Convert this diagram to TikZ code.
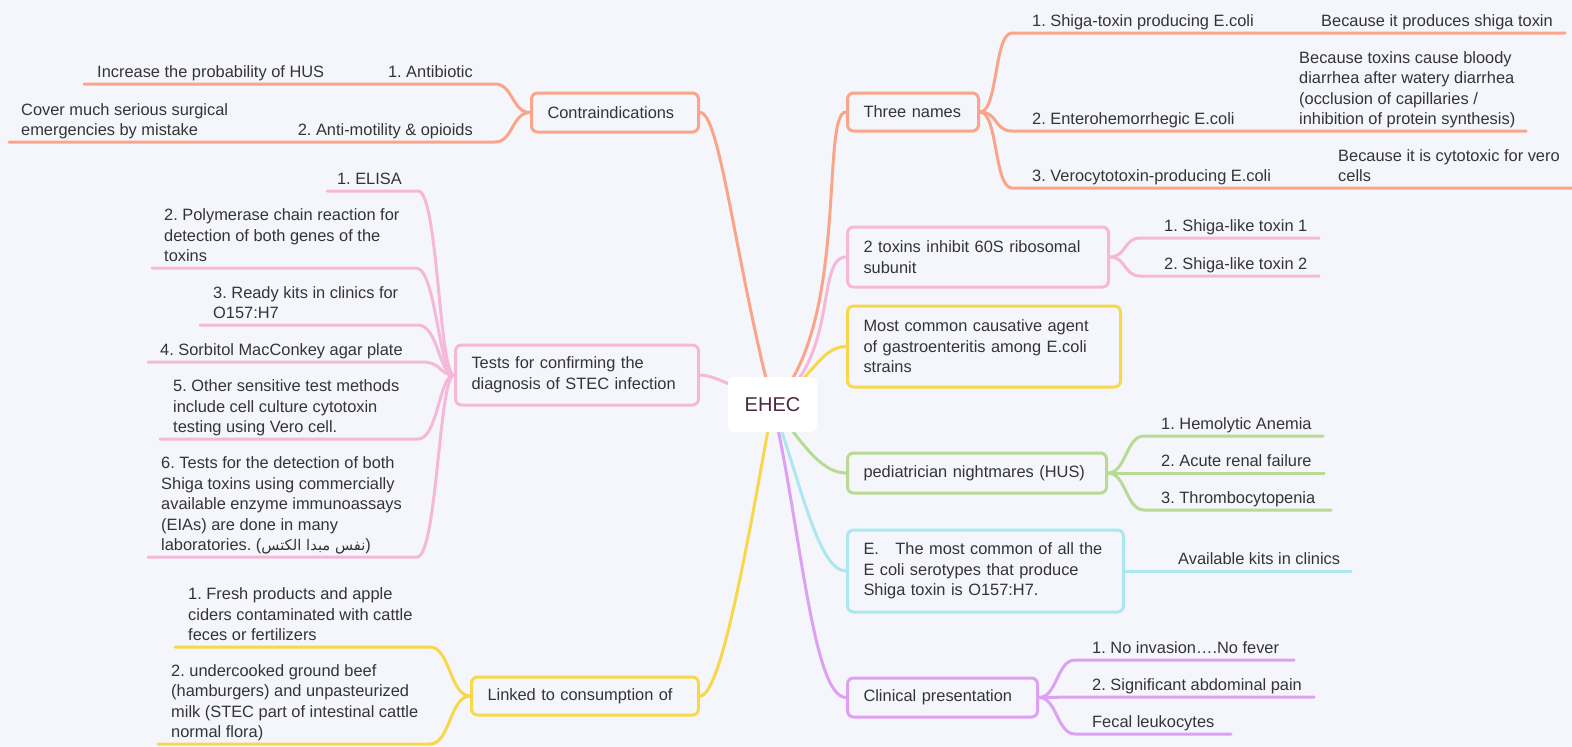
\documentclass[tikz,border=0pt]{standalone}
\usepackage{fontspec}
\setmainfont{Liberation Sans}
\newfontfamily\arabicfont[Script=Arabic,Scale=0.9]{DejaVu Sans}
\TeXXeTstate=1
\frenchspacing
\definecolor{bgc}{RGB}{245,246,251}
\definecolor{txt}{RGB}{52,52,56}
\definecolor{rootc}{RGB}{75,40,64}
\definecolor{orangec}{RGB}{250,165,137}
\definecolor{pinkc}{RGB}{245,184,216}
\definecolor{yellowc}{RGB}{247,216,74}
\definecolor{greenc}{RGB}{184,218,146}
\definecolor{cyanc}{RGB}{171,231,238}
\definecolor{purplec}{RGB}{221,160,242}
\pgfdeclarelayer{back}
\pgfsetlayers{back,main}
\begin{document}
\begin{tikzpicture}[x=1pt,y=-1pt,
    every node/.style={font=\fontsize{16.4}{20.5}\selectfont, text=txt},
    topic/.style={draw, line width=3pt, rounded corners=6pt, fill=bgc, align=left,
      inner xsep=16pt, inner ysep=0pt, anchor=west},
    topicr/.style={topic, anchor=east},
    leaf/.style={inner sep=0pt, text depth=4pt, align=left, anchor=south west},
    leafr/.style={leaf, anchor=south east},
    link/.style={line width=3pt, line cap=round}]
  \useasboundingbox (0,0) rectangle (1572,747);
  \begin{pgfonlayer}{back}
    \fill[bgc] (0,0) rectangle (1572,747);
  \end{pgfonlayer}

  \node[fill=white, rounded corners=6pt, minimum width=89pt, minimum height=55pt,
    font=\fontsize{20}{24}\selectfont, text=rootc] (ehec) at (772.5,404.5) {EHEC};

  \node[topic, draw=orangec, text width=99pt, minimum height=38pt] (three) at (846,112) {Three names};
  \node[topic, draw=pinkc, text width=229pt, minimum height=60pt] (tox) at (846,257) {2 toxins inhibit 60S ribosomal\\subunit};
  \node[topic, draw=yellowc, text width=241pt, minimum height=81pt] (most) at (846,346.5) {Most common causative agent\\of gastroenteritis among E.coli\\strains};
  \node[topic, draw=greenc, text width=227pt, minimum height=40pt] (ped) at (846,473) {pediatrician nightmares (HUS)};
  \node[topic, draw=cyanc, text width=244pt, minimum height=82pt] (ecoli) at (846,571) {E.\ \ \ The most common of all the\\E coli serotypes that produce\\Shiga toxin is O157:H7.};
  \node[topic, draw=purplec, text width=158pt, minimum height=39pt] (clin) at (846,697.5) {Clinical presentation};
  \node[topicr, draw=orangec, text width=135pt, minimum height=39pt] (contra) at (700,112.5) {Contraindications};
  \node[topicr, draw=pinkc, text width=211pt, minimum height=60pt] (tests) at (700,375) {Tests for confirming the\\diagnosis of STEC infection};
  \node[topicr, draw=yellowc, text width=195pt, minimum height=38pt] (linked) at (700,696) {Linked to consumption of};

  \node[leaf] (three1) at (1032,31) {1. Shiga-toxin producing E.coli};
  \node[leaf] (three1n) at (1321,31) {Because it produces shiga toxin};
  \node[leaf] (three2) at (1032,129) {2. Enterohemorrhegic E.coli};
  \node[leaf] (three2n) at (1299,129) {Because toxins cause bloody\\diarrhea after watery diarrhea\\(occlusion of capillaries /\\inhibition of protein synthesis)};
  \node[leaf] (three3) at (1032,186) {3. Verocytotoxin-producing E.coli};
  \node[leaf] (three3n) at (1338,186) {Because it is cytotoxic for vero\\cells};
  \node[leaf] (tox1) at (1164,236) {1. Shiga-like toxin 1};
  \node[leaf] (tox2) at (1164,274) {2. Shiga-like toxin 2};
  \node[leaf] (ped1) at (1161,434) {1. Hemolytic Anemia};
  \node[leaf] (ped2) at (1161,471) {2. Acute renal failure};
  \node[leaf] (ped3) at (1161,508) {3. Thrombocytopenia};
  \node[leaf] (ecoli1) at (1178,569) {Available kits in clinics};
  \node[leaf] (clin1) at (1092,658) {1. No invasion….No fever};
  \node[leaf] (clin2) at (1092,695) {2. Significant abdominal pain};
  \node[leaf] (clin3) at (1092,732) {Fecal leukocytes};

  \node[leafr] (contra1) at (473,82) {1. Antibiotic};
  \node[leaf] (contra1n) at (97,82) {Increase the probability of HUS};
  \node[leafr] (contra2) at (473,140) {2. Anti-motility \& opioids};
  \node[leaf] (contra2n) at (21,140) {Cover much serious surgical\\emergencies by mistake};
  \node[leafr] (tests1) at (402,189) {1. ELISA};
  \node[leaf] (tests2) at (164,266) {2. Polymerase chain reaction for\\detection of both genes of the\\toxins};
  \node[leaf] (tests3) at (213,323) {3. Ready kits in clinics for\\O157:H7};
  \node[leaf] (tests4) at (160,360) {4. Sorbitol MacConkey agar plate};
  \node[leaf] (tests5) at (173,437) {5. Other sensitive test methods\\include cell culture cytotoxin\\testing using Vero cell.};
  \node[leaf] (tests6) at (161,555) {6. Tests for the detection of both\\Shiga toxins using commercially\\available enzyme immunoassays\\(EIAs) are done in many\\laboratories. ({\arabicfont\beginR نفس مبدا الكتس\endR})};
  \node[leaf] (linked1) at (188,645) {1. Fresh products and apple\\ciders contaminated with cattle\\feces or fertilizers};
  \node[leaf] (linked2) at (171,742) {2. undercooked ground beef\\(hamburgers) and unpasteurized\\milk (STEC part of intestinal cattle\\normal flora)};

  \coordinate (three1s) at (1012,33);  \coordinate (three1e) at (1565,33);
  \coordinate (three2s) at (1012,131); \coordinate (three2e) at (1526,131);
  \coordinate (three3s) at (1012,188); \coordinate (three3e) at (1572,188);
  \coordinate (tox1s) at (1140,238);   \coordinate (tox1e) at (1319,238);
  \coordinate (tox2s) at (1140,276);   \coordinate (tox2e) at (1319,276);
  \coordinate (ped1s) at (1144,436);   \coordinate (ped1e) at (1323,436);
  \coordinate (ped2s) at (1144,473);   \coordinate (ped2e) at (1324,473);
  \coordinate (ped3s) at (1144,510);   \coordinate (ped3e) at (1331,510);
  \coordinate (ecoli1e) at (1351,571);
  \coordinate (clin1s) at (1075,660);  \coordinate (clin1e) at (1294,660);
  \coordinate (clin2s) at (1075,697);  \coordinate (clin2e) at (1314,697);
  \coordinate (clin3s) at (1075,734);  \coordinate (clin3e) at (1231,734);
  \coordinate (contra1s) at (495,84);  \coordinate (contra1e) at (84,84);
  \coordinate (contra2s) at (495,142); \coordinate (contra2e) at (9,142);
  \coordinate (tests1s) at (418,191);  \coordinate (tests1e) at (327,191);
  \coordinate (tests2s) at (416,268);  \coordinate (tests2e) at (152,268);
  \coordinate (tests3s) at (418,325);  \coordinate (tests3e) at (200,325);
  \coordinate (tests4s) at (422,362);  \coordinate (tests4e) at (148,362);
  \coordinate (tests5s) at (418,439);  \coordinate (tests5e) at (160,439);
  \coordinate (tests6s) at (417,557);  \coordinate (tests6e) at (148,557);
  \coordinate (linked1s) at (430,647); \coordinate (linked1e) at (175,647);
  \coordinate (linked2s) at (430,744); \coordinate (linked2e) at (158,744);

  \begin{pgfonlayer}{back}
    \draw[link, orangec] (ehec.center) .. controls (850,330) and (820,112) .. (three.west);
    \draw[link, pinkc] (ehec.center) .. controls (840,360) and (815,257) .. (tox.west);
    \draw[link, yellowc] (ehec.center) .. controls (812,380) and (820,346.5) .. (most.west);
    \draw[link, greenc] (ehec.center) .. controls (800,440) and (820,473) .. (ped.west);
    \draw[link, cyanc] (ehec.center) .. controls (800,480) and (818,571) .. (ecoli.west);
    \draw[link, purplec] (ehec.center) .. controls (800,520) and (812,697.5) .. (clin.west);
    \draw[link, orangec] (ehec.center) .. controls (735,260) and (720,112.5) .. (contra.east);
    \draw[link, pinkc] (ehec.center) .. controls (740,390) and (715,375) .. (tests.east);
    \draw[link, yellowc] (ehec.center) .. controls (745,560) and (720,696) .. (linked.east);

    \draw[link, orangec] (three.east) .. controls +(18,0) and +(-18,0) .. (three1s) -- (three1e);
    \draw[link, orangec] (three.east) .. controls +(18,0) and +(-18,0) .. (three2s) -- (three2e);
    \draw[link, orangec] (three.east) .. controls +(18,0) and +(-18,0) .. (three3s) -- (three3e);
    \draw[link, pinkc] (tox.east) .. controls +(16,0) and +(-16,0) .. (tox1s) -- (tox1e);
    \draw[link, pinkc] (tox.east) .. controls +(16,0) and +(-16,0) .. (tox2s) -- (tox2e);
    \draw[link, greenc] (ped.east) .. controls +(18,0) and +(-18,0) .. (ped1s) -- (ped1e);
    \draw[link, greenc] (ped.east) -- (ped2s) -- (ped2e);
    \draw[link, greenc] (ped.east) .. controls +(18,0) and +(-18,0) .. (ped3s) -- (ped3e);
    \draw[link, cyanc] (ecoli.east) -- (ecoli1e);
    \draw[link, purplec] (clin.east) .. controls +(18,0) and +(-18,0) .. (clin1s) -- (clin1e);
    \draw[link, purplec] (clin.east) -- (clin2s) -- (clin2e);
    \draw[link, purplec] (clin.east) .. controls +(18,0) and +(-18,0) .. (clin3s) -- (clin3e);
    \draw[link, orangec] (contra.west) .. controls +(-18,0) and +(18,0) .. (contra1s) -- (contra1e);
    \draw[link, orangec] (contra.west) .. controls +(-18,0) and +(18,0) .. (contra2s) -- (contra2e);
    \draw[link, pinkc] (tests.west) .. controls +(-15,0) and +(20,0) .. (tests1s) -- (tests1e);
    \draw[link, pinkc] (tests.west) .. controls +(-15,0) and +(20,0) .. (tests2s) -- (tests2e);
    \draw[link, pinkc] (tests.west) .. controls +(-15,0) and +(20,0) .. (tests3s) -- (tests3e);
    \draw[link, pinkc] (tests.west) .. controls +(-15,0) and +(20,0) .. (tests4s) -- (tests4e);
    \draw[link, pinkc] (tests.west) .. controls +(-15,0) and +(20,0) .. (tests5s) -- (tests5e);
    \draw[link, pinkc] (tests.west) .. controls +(-15,0) and +(20,0) .. (tests6s) -- (tests6e);
    \draw[link, yellowc] (linked.west) .. controls +(-20,0) and +(20,0) .. (linked1s) -- (linked1e);
    \draw[link, yellowc] (linked.west) .. controls +(-20,0) and +(20,0) .. (linked2s) -- (linked2e);
  \end{pgfonlayer}
\end{tikzpicture}
\end{document}
